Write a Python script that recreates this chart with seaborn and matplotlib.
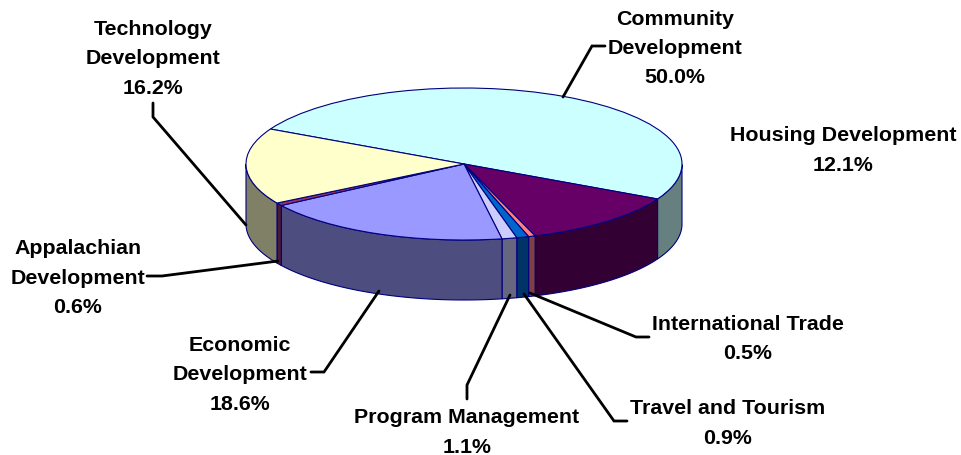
import numpy as np
import seaborn as sns
import matplotlib
matplotlib.use('Agg')
import matplotlib.pyplot as plt

# slices in clockwise order, starting from the upper left edge
categorias = ['Community\nDevelopment', 'Housing Development', 'International Trade',
              'Travel and Tourism', 'Program Management', 'Economic\nDevelopment',
              'Appalachian\nDevelopment', 'Technology\nDevelopment']
valores = [50.0, 12.1, 0.5, 0.9, 1.1, 18.6, 0.6, 16.2]
cores = ['#CCFFFF', '#660066', '#FF8080', '#0066CC', '#CCCCFF', '#9999FF', '#993366', '#FFFFCC']

# label centre and leader line, in pixels of the picture
pos_texto = [(675, 48.5), (843.5, 150.5), (748, 339), (728, 423.5), (467, 432.5), (240, 375), (78, 278), (153, 59)]
linhas = [
    [(563, 98), (592, 47), (605, 47)],
    None,
    [(530, 294), (636, 338), (649, 338)],
    [(524, 295), (614, 422), (627, 422)],
    [(510, 296), (467, 386), (467, 400)],
    [(379, 292), (324, 373), (311, 373)],
    [(278, 262), (162, 277), (147, 277)],
    [(246, 226), (153, 118), (153, 104)],
]

W, H = 961, 456
CX, CY = 464, 165
RX, RY = 218, 76
PROF = 60 / RY
NAVY = '#000080'

sns.set_style('white')
plt.rcParams['font.family'] = ['Liberation Sans', 'DejaVu Sans']

fig = plt.figure(figsize=(W / 100, H / 100), dpi=100)
ax = fig.add_axes([0, 0, 1, 1])

paleta = sns.color_palette(cores)
wedges, _ = ax.pie(valores, colors=paleta, startangle=152.6, counterclock=False,
                   wedgeprops={'edgecolor': NAVY, 'linewidth': 0.8, 'zorder': 3})

# flatten the circle into the ellipse seen in the picture
ax.set_aspect('auto')
ax.set_xlim(-CX / RX, (W - CX) / RX)
ax.set_ylim((CY - H) / RY, CY / RY)
ax.set_axis_off()

# wall of the cylinder: only the part of each slice facing the front
for w, cor in zip(wedges, paleta):
    th = np.radians(np.linspace(w.theta1, w.theta2, 300))
    th = th[np.sin(th) <= 0]
    if len(th) == 0:
        continue
    x = np.cos(th)
    y = np.sin(th)
    lado = tuple(c / 2 for c in cor)
    ax.fill(np.r_[x, x[::-1]], np.r_[y, y[::-1] - PROF], facecolor=lado,
            edgecolor=NAVY, linewidth=0.8, zorder=2)

for nome, v, (tx, ty), linha in zip(categorias, valores, pos_texto, linhas):
    fig.text(tx / W, 1 - ty / H, f'{nome}\n{v:.1f}%', ha='center', va='center',
             multialignment='center', fontsize=15.4, fontweight='bold',
             color='black', linespacing=1.68)
    if linha is not None:
        xs = [p[0] / W for p in linha]
        ys = [1 - p[1] / H for p in linha]
        fig.add_artist(plt.Line2D(xs, ys, color='black', linewidth=2,
                                  transform=fig.transFigure, solid_joinstyle='miter'))

plt.savefig('out.png', dpi=100)
plt.close('all')
